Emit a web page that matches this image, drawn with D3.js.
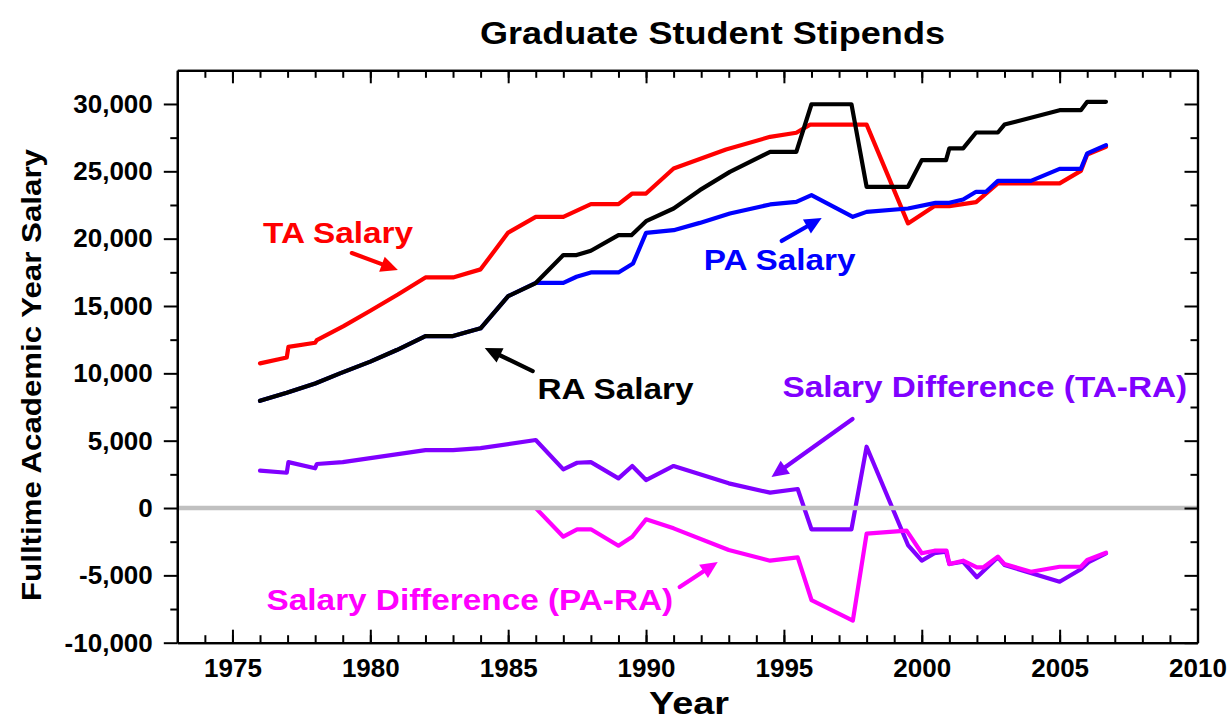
<!DOCTYPE html>
<html><head><meta charset="utf-8">
<script src="https://cdn.jsdelivr.net/npm/d3@7"></script>
<style>
body{margin:0;background:#fff}
svg{display:block}
text{font-family:"Liberation Sans",Arial,Helvetica,sans-serif;font-weight:bold}
</style></head>
<body><svg id="c" width="1231" height="723"></svg>
<script>
// ---- data (year, dollars) ----
const taSalary = [[1976,10740],[1976.97,11180],[1977.03,11970],[1978,12270],[1978.06,12470],[1979.03,13510],[1980,14650],[1981,15850],[1982,17120],[1983,17120],[1984,17720],[1985,20450],[1986,21620],[1987,21620],[1988,22560],[1989,22560],[1989.5,23350],[1990,23350],[1991,25210],[1992.9,26620],[1994.5,27560],[1995.45,27860],[1995.95,28470],[1998,28470],[1999.5,21130],[2000.45,22410],[2001,22410],[2001.97,22710],[2002.76,24100],[2005,24100],[2005.77,25030],[2006,26250],[2006.68,26820]];
const raSalary = [[1976,7960],[1976.97,8560],[1978,9250],[1978.9,10000],[1980,10870],[1980.96,11730],[1982,12770],[1983,12770],[1984,13340],[1985,15730],[1986,16700],[1987,18780],[1987.48,18780],[1988,19100],[1989,20260],[1989.47,20260],[1990,21300],[1991,22240],[1991.95,23600],[1993.04,24960],[1994.5,26440],[1995.45,26440],[1996,29980],[1997.45,29980],[1998,23850],[1999.5,23850],[2000,25830],[2000.88,25830],[2001,26700],[2001.5,26700],[2001.97,27880],[2002.76,27880],[2003,28470],[2005,29540],[2005.77,29540],[2006,30160],[2006.68,30160]];
const paSalary = [[1976,7960],[1976.97,8560],[1978,9250],[1978.9,10000],[1980,10870],[1980.96,11730],[1982,12770],[1983,12770],[1984,13340],[1985,15730],[1986,16720],[1987,16720],[1987.48,17170],[1988,17490],[1989,17490],[1989.53,18160],[1990,20430],[1991,20630],[1991.95,21170],[1993.04,21870],[1994.5,22540],[1995.45,22730],[1996,23230],[1997.5,21620],[1998,21990],[1999.5,22240],[2000.5,22660],[2001,22660],[2001.5,22910],[2001.97,23480],[2002.33,23480],[2002.76,24290],[2003.96,24290],[2005,25180],[2005.77,25180],[2006,26330],[2006.68,26940]];
const diffTaRa = [[1976,2770],[1976.97,2620],[1977.03,3410],[1978,2950],[1978.06,3270],[1979,3410],[1982,4300],[1983,4300],[1984,4450],[1986,5050],[1987,2870],[1987.5,3360],[1988,3410],[1989,2200],[1989.5,3120],[1990,2080],[1991,3120],[1993,1830],[1994.5,1140],[1995.5,1410],[1996,-1580],[1997.45,-1580],[1998,4550],[1999.5,-2750],[2000,-3910],[2000.46,-3360],[2000.88,-3240],[2001,-4160],[2001.5,-3990],[2002,-5140],[2002.76,-3660],[2003,-4230],[2005,-5470],[2005.77,-4550],[2006.07,-3990],[2006.68,-3360]];
const diffPaRa = [[1976,0],[1986,0],[1987,-2130],[1987.5,-1580],[1988,-1580],[1989,-2800],[1989.5,-2130],[1990,-840],[1991,-1510],[1993,-3120],[1994.5,-3910],[1995.5,-3660],[1996,-6830],[1997.5,-8360],[1998,-1900],[1999.45,-1680],[2000,-3360],[2000.46,-3170],[2000.9,-3170],[2001,-4160],[2001.5,-3910],[2002,-4400],[2002.24,-4400],[2002.76,-3610],[2003,-4160],[2003.96,-4730],[2005,-4360],[2005.77,-4360],[2006,-3860],[2006.68,-3320]];

const xMajorTicks = [1975,1980,1985,1990,1995,2000,2005,2010];
const xMinorTicks = d3.range(1974,2010);
const yMajorTicks = [-10000,-5000,0,5000,10000,15000,20000,25000,30000];
const yMinorTicks = d3.range(-7500,32500,5000);

const chartTitle = "Graduate Student Stipends";
const xTitle = "Year";
const yTitle = "Fulltime Academic Year Salary";

// annotations: label, color, text anchor point (year,value), arrow from, arrow to
const annotations = [
  {label:"TA Salary", color:"#ff0000", at:[1976.11,19680], from:[1979.33,18930], to:[1981.0,17670]},
  {label:"RA Salary", color:"#000000", at:[1986.06,8090], from:[1985.89,10170], to:[1984.15,11880]},
  {label:"PA Salary", color:"#0000ff", at:[1992.09,17670], from:[1994.92,19830], to:[1996.37,21530]},
  {label:"Salary Difference (TA-RA)", color:"#8000ff", at:[1994.95,8220], from:[1997.49,6610], to:[1994.55,2300]},
  {label:"Salary Difference (PA-RA)", color:"#ff00ff", at:[1976.24,-7570], from:[1991.22,-5870], to:[1992.6,-4010]}
];

// ---- drawing ----
const svg = d3.select("#c");
const x = d3.scaleLinear().domain([1973,2010]).range([177.3,1197.5]);
const y = d3.scaleLinear().domain([-10000,32500]).range([642.7,70.3]);
const line = d3.line().x(d=>x(d[0])).y(d=>y(d[1]));

const series = [
  {data:taSalary, color:"#ff0000"},
  {data:paSalary, color:"#0000ff"},
  {data:raSalary, color:"#000000"},
  {data:diffTaRa, color:"#8000ff"},
  {data:diffPaRa, color:"#ff00ff"}
];
svg.append("g").selectAll("path").data(series).join("path")
  .attr("d", s=>line(s.data)).attr("fill","none")
  .attr("stroke", s=>s.color).attr("stroke-width",4.2)
  .attr("stroke-linejoin","round").attr("stroke-linecap","round");

// zero line
svg.append("line").attr("x1",x(1973)).attr("x2",x(2010)).attr("y1",y(0)).attr("y2",y(0))
  .attr("stroke","#c0c0c0").attr("stroke-width",4.5);

// axes
const fmt = d => d3.format(",")(d).replace("\u2212","-");
function styleAxis(g, labels){
  g.selectAll("path.domain").attr("stroke","#000").attr("stroke-width",2.2);
  g.selectAll(".tick line").attr("stroke","#000").attr("stroke-width",2);
  if(labels) g.selectAll(".tick text").attr("font-size",26).attr("fill","#000")
      .attr("font-family","'Liberation Sans',Arial,sans-serif").attr("font-weight","bold");
  else g.selectAll(".tick text").remove();
}
const H = 642.7, T = 70.3, L = 177.3, R = 1197.5;
svg.append("g").attr("transform",`translate(0,${H})`)
  .call(d3.axisBottom(x).tickValues(xMinorTicks).tickSize(-7.5).tickSizeOuter(0)).call(g=>styleAxis(g,false));
svg.append("g").attr("transform",`translate(0,${H})`)
  .call(d3.axisBottom(x).tickValues(xMajorTicks).tickSize(-13).tickSizeOuter(0).tickPadding(16).tickFormat(d3.format("d"))).call(g=>styleAxis(g,true));
svg.append("g").attr("transform",`translate(0,${T})`)
  .call(d3.axisTop(x).tickValues(xMinorTicks).tickSize(-7.5).tickSizeOuter(0)).call(g=>styleAxis(g,false));
svg.append("g").attr("transform",`translate(0,${T})`)
  .call(d3.axisTop(x).tickValues(xMajorTicks).tickSize(-13).tickSizeOuter(0)).call(g=>styleAxis(g,false));
svg.append("g").attr("transform",`translate(${L},0)`)
  .call(d3.axisLeft(y).tickValues(yMinorTicks).tickSize(7).tickSizeOuter(0)).call(g=>styleAxis(g,false));
svg.append("g").attr("transform",`translate(${L},0)`)
  .call(d3.axisLeft(y).tickValues(yMajorTicks).tickSize(13.5).tickSizeOuter(0).tickPadding(11).tickFormat(fmt)).call(g=>styleAxis(g,true));
svg.append("g").attr("transform",`translate(${R},0)`)
  .call(d3.axisRight(y).tickValues(yMinorTicks).tickSize(-7).tickSizeOuter(0)).call(g=>styleAxis(g,false));
svg.append("g").attr("transform",`translate(${R},0)`)
  .call(d3.axisRight(y).tickValues(yMajorTicks).tickSize(-13).tickSizeOuter(0)).call(g=>styleAxis(g,false));

// titles
svg.append("text").attr("x",480).attr("y",44).attr("font-size",32)
  .attr("textLength",465).attr("lengthAdjust","spacingAndGlyphs").text(chartTitle);
svg.append("text").attr("x",689).attr("y",714).attr("text-anchor","middle").attr("font-size",31)
  .attr("textLength",80).attr("lengthAdjust","spacingAndGlyphs").text(xTitle);
svg.append("text").attr("transform","translate(41,375) rotate(-90)").attr("text-anchor","middle")
  .attr("font-size",28).attr("textLength",452).attr("lengthAdjust","spacingAndGlyphs").text(yTitle);

// annotations
const ag = svg.append("g");
annotations.forEach(a=>{
  const t = ag.append("text").attr("x",x(a.at[0])).attr("y",y(a.at[1]))
    .attr("font-size",30).attr("fill",a.color).text(a.label);
  const w = t.node().getComputedTextLength();
  t.attr("textLength", w*1.11).attr("lengthAdjust","spacingAndGlyphs");
  const x1=x(a.from[0]), y1=y(a.from[1]), x2=x(a.to[0]), y2=y(a.to[1]);
  const dx=x2-x1, dy=y2-y1, len=Math.hypot(dx,dy), ux=dx/len, uy=dy/len;
  const hl=17, hw=8;
  const bx=x2-ux*hl, by=y2-uy*hl;
  ag.append("line").attr("x1",x1).attr("y1",y1).attr("x2",bx+ux*2).attr("y2",by+uy*2)
    .attr("stroke",a.color).attr("stroke-width",4.2).attr("stroke-linecap","round");
  ag.append("path").attr("d",`M${x2},${y2}L${bx-uy*hw},${by+ux*hw}L${bx+uy*hw},${by-ux*hw}Z`)
    .attr("fill",a.color);
});
</script></body></html>
